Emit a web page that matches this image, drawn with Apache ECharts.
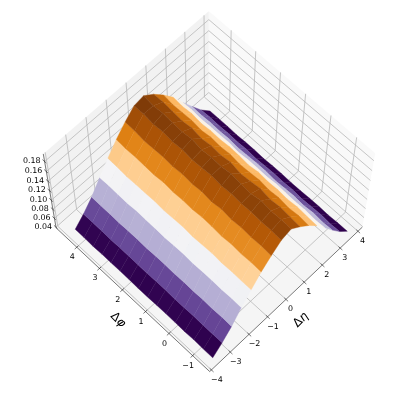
<!DOCTYPE html><html><body style="margin:0;background:#fff"><div id="c" style="width:407px;height:397px"></div>
<script src="https://cdn.jsdelivr.net/npm/echarts@6/dist/echarts.min.js"></script>
<script>
const etaValues=[-3.75,-3.263,-2.777,-2.29,-1.803,-1.317,-0.83,-0.343,0.143,0.63,1.117,1.603,2.09,2.577,3.063,3.55];
const phiValues=[-1.57,-1.18,-0.785,-0.39,0,0.39,0.785,1.18,1.57,1.96,2.356,2.75,3.14,3.53,3.93,4.32];
const zRow00=[.050,.050,.051,.050,.051,.051,.051,.050,.050,.051,.051,.051,.051,.050,.051,.051];
const zRow01=[.066,.066,.066,.067,.066,.066,.067,.067,.066,.066,.067,.067,.066,.067,.067,.067];
const zRow02=[.085,.086,.085,.086,.085,.086,.085,.086,.086,.085,.086,.086,.085,.086,.086,.086];
const zRow03=[.109,.110,.109,.110,.110,.109,.111,.110,.109,.110,.110,.111,.109,.110,.111,.110];
const zRow04=[.130,.130,.131,.130,.132,.131,.130,.132,.131,.130,.132,.131,.131,.130,.132,.133];
const zRow05=[.150,.151,.150,.152,.150,.152,.153,.151,.152,.151,.153,.151,.152,.153,.152,.154];
const zRow06=[.166,.168,.167,.169,.167,.170,.167,.170,.168,.170,.168,.170,.169,.168,.171,.172];
const zRow07=[.180,.182,.181,.183,.182,.184,.182,.185,.183,.182,.185,.183,.186,.184,.187,.187];
const zRow08=[.185,.186,.185,.188,.184,.186,.189,.186,.187,.185,.189,.186,.187,.189,.187,.190];
const zRow09=[.171,.173,.175,.173,.177,.174,.172,.177,.174,.176,.173,.177,.174,.176,.178,.177];
const zRow10=[.155,.157,.155,.158,.156,.159,.157,.156,.159,.157,.159,.156,.159,.158,.157,.160];
const zRow11=[.136,.137,.139,.137,.139,.138,.140,.137,.139,.140,.138,.139,.137,.140,.138,.140];
const zRow12=[.113,.112,.114,.113,.114,.115,.113,.114,.114,.112,.115,.114,.114,.113,.115,.114];
const zRow13=[.089,.088,.090,.088,.090,.089,.088,.090,.090,.089,.088,.090,.089,.090,.089,.090];
const zRow14=[.067,.066,.068,.067,.066,.068,.067,.068,.067,.066,.068,.067,.068,.067,.068,.067];
const zRow15=[.049,.049,.048,.049,.049,.048,.048,.049,.049,.048,.049,.049,.048,.049,.049,.049];
const zRows=[zRow00,zRow01,zRow02,zRow03,zRow04,zRow05,zRow06,zRow07,zRow08,zRow09,zRow10,zRow11,zRow12,zRow13,zRow14,zRow15];
const etaTicks=[-4,-3,-2,-1,0,1,2,3,4];
const phiTicks=[-1,0,1,2,3,4];
const zTicks=[0.04,0.06,0.08,0.10,0.12,0.14,0.16,0.18];
const cmapStops=['#2d004b','#542788','#8073ac','#b2abd2','#d8daeb','#f7f7f7','#fee0b6','#fdb863','#e08214','#b35806','#7f3b08'];
const xLim=[-4.092,4.249],yLim=[-1.713,4.922],zLim=[0.0385,0.195];
const view={elev:64.087,azim:-135.157,scale:1892.2,tx:209.24,ty:191.99,dist:10};

const cross=(a,b)=>[a[1]*b[2]-a[2]*b[1],a[2]*b[0]-a[0]*b[2],a[0]*b[1]-a[1]*b[0]];
const unit=a=>{const n=Math.hypot(a[0],a[1],a[2]);return a.map(v=>v/n)};
const dot=(a,b)=>a[0]*b[0]+a[1]*b[1]+a[2]*b[2];
const k=1.8294640721620434*25/24/Math.hypot(4,4,3),box=[4*k,4*k,3*k];
const e=view.elev*Math.PI/180,f=view.azim*Math.PI/180;
const ctr=box.map(v=>v/2);
const eye=[ctr[0]+view.dist*Math.cos(e)*Math.cos(f),ctr[1]+view.dist*Math.cos(e)*Math.sin(f),ctr[2]+view.dist*Math.sin(e)];
const w=unit([eye[0]-ctr[0],eye[1]-ctr[1],eye[2]-ctr[2]]),u=unit(cross([0,0,1],w)),v=cross(w,u);
const lm=echarts.number.linearMap;
function cam(x,y,z){return[lm(x,xLim,[0,box[0]])-eye[0],lm(y,yLim,[0,box[1]])-eye[1],lm(z,zLim,[0,box[2]])-eye[2]]}
function proj(x,y,z){const p=cam(x,y,z),zc=-dot(w,p);return[view.tx+view.scale*dot(u,p)/zc,view.ty-view.scale*dot(v,p)/zc]}
function depth(x,y,z){return -dot(w,cam(x,y,z))}
const [a,b]=xLim,[c,d]=yLim,[z0,z1]=zLim;
const base={coordinateSystem:'none',silent:true,animation:false,clip:false};

const panes=[
 {pts:[[a,d,z0],[b,d,z0],[b,d,z1],[a,d,z1]],fill:'#f2f2f2'},
 {pts:[[b,c,z0],[b,d,z0],[b,d,z1],[b,c,z1]],fill:'#f9f9f9'},
 {pts:[[a,c,z0],[b,c,z0],[b,d,z0],[a,d,z0]],fill:'#f5f5f5'}];
const gridLines=[];
etaTicks.forEach(t=>gridLines.push([[t,c,z0],[t,d,z0],[t,d,z1]]));
phiTicks.forEach(t=>gridLines.push([[a,t,z0],[b,t,z0],[b,t,z1]]));
zTicks.forEach(t=>gridLines.push([[a,d,t],[b,d,t],[b,c,t]]));
const faces=[];
for(let i=0;i<etaValues.length-1;i++)for(let j=0;j<phiValues.length-1;j++){
 const q=[[i,j],[i+1,j],[i+1,j+1],[i,j+1]].map(([m,n])=>[etaValues[m],phiValues[n],zRows[m][n]]);
 const mean=(q[0][2]+q[1][2]+q[2][2]+q[3][2])/4;
 faces.push({q,mean,dep:q.reduce((s,p)=>s+depth(p[0],p[1],p[2]),0)/4});
}
faces.sort((m,n)=>n.dep-m.dep);
const vmin=Math.min(...faces.map(t=>t.mean)),vmax=Math.max(...faces.map(t=>t.mean));
function cmap(t){const n=cmapStops.length-1,s=Math.max(0,Math.min(1,t))*n,i=Math.min(n-1,Math.floor(s)),h=s-i;
 const rgb=x=>[1,3,5].map(o=>parseInt(x.substr(o,2),16));const A=rgb(cmapStops[i]),B=rgb(cmapStops[i+1]);
 return 'rgb('+A.map((y,o)=>Math.round(y+(B[o]-y)*h)).join(',')+')'}
faces.forEach(t=>t.color=cmap((t.mean-vmin)/(vmax-vmin)));
const axisLines=[
 [[a,c,z0],[b,c,z0]],[[a,c,z0],[a,d,z0]],[[a,d,z0],[a,d,z1]]];
etaTicks.forEach(t=>axisLines.push([[t,c-0.09,z0],[t,c+0.07,z0]]));
phiTicks.forEach(t=>axisLines.push([[a-0.11,t,z0],[a+0.09,t,z0]]));
zTicks.forEach(t=>axisLines.push([[a,d+0.09,t],[a,d-0.07,t]]));
const fmt=t=>String(t).replace('-','\u2212');
const labels=[];
etaTicks.forEach(t=>{const p=proj(t,c,z0);labels.push({x:p[0]+(t<0?5.5:4.5),y:p[1]+10,text:fmt(t),align:'center'})});
phiTicks.forEach(t=>{const p=proj(a,t,z0);labels.push({x:p[0]-4.5,y:p[1]+10,text:fmt(t),align:'center'})});
zTicks.forEach(t=>{const p=proj(a,d,t);labels.push({x:p[0]-4,y:p[1]-0.5,text:t.toFixed(2),align:'right'})});
const F='"DejaVu Sans"';
const option={backgroundColor:'#fff',series:[
 {...base,type:'custom',data:panes.map((_,i)=>i),renderItem:(_,api)=>{const g=panes[api.value(0)];
   return{type:'polygon',shape:{points:g.pts.map(p=>proj(...p))},style:{fill:g.fill,stroke:null}}},z:1},
 {...base,type:'custom',data:gridLines.map((_,i)=>i),renderItem:(_,api)=>({type:'polyline',shape:{points:gridLines[api.value(0)].map(p=>proj(...p))},style:{fill:null,stroke:'#b8b8b8',lineWidth:0.8}}),z:2},
 {...base,type:'custom',data:axisLines.map((_,i)=>i),renderItem:(_,api)=>({type:'polyline',shape:{points:axisLines[api.value(0)].map(p=>proj(...p))},style:{fill:null,stroke:'#222',lineWidth:0.6}}),z:3},
 {...base,type:'custom',data:faces.map((_,i)=>i),renderItem:(_,api)=>{const t=faces[api.value(0)];
   return{type:'polygon',shape:{points:t.q.map(p=>proj(...p))},style:{fill:t.color,stroke:t.color,lineWidth:0.4}}},z:4},
 {...base,type:'custom',data:labels.map((_,i)=>i),renderItem:(_,api)=>{const t=labels[api.value(0)];
   return{type:'text',x:t.x,y:t.y,style:{text:t.text,font:'7.9px '+F,fill:'#000',align:t.align,verticalAlign:'middle'}}},z:5},
 {...base,type:'custom',data:[0,1],renderItem:(_,api)=>{const i=api.value(0);
   return{type:'text',x:i?118:301,y:320,rotation:i?-Math.PI/4:Math.PI/4,style:{text:i?'{a|\u0394}{b|\u03c6}':'{a|\u0394}{b|\u03b7}',align:'center',verticalAlign:'middle',
     rich:{a:{font:'12px '+F,fill:'#000'},b:{font:'italic 12px '+F,fill:'#000'}}}}},z:5}
]};
const ch=echarts.init(document.getElementById('c'));
ch.setOption(option);
</script></body></html>
